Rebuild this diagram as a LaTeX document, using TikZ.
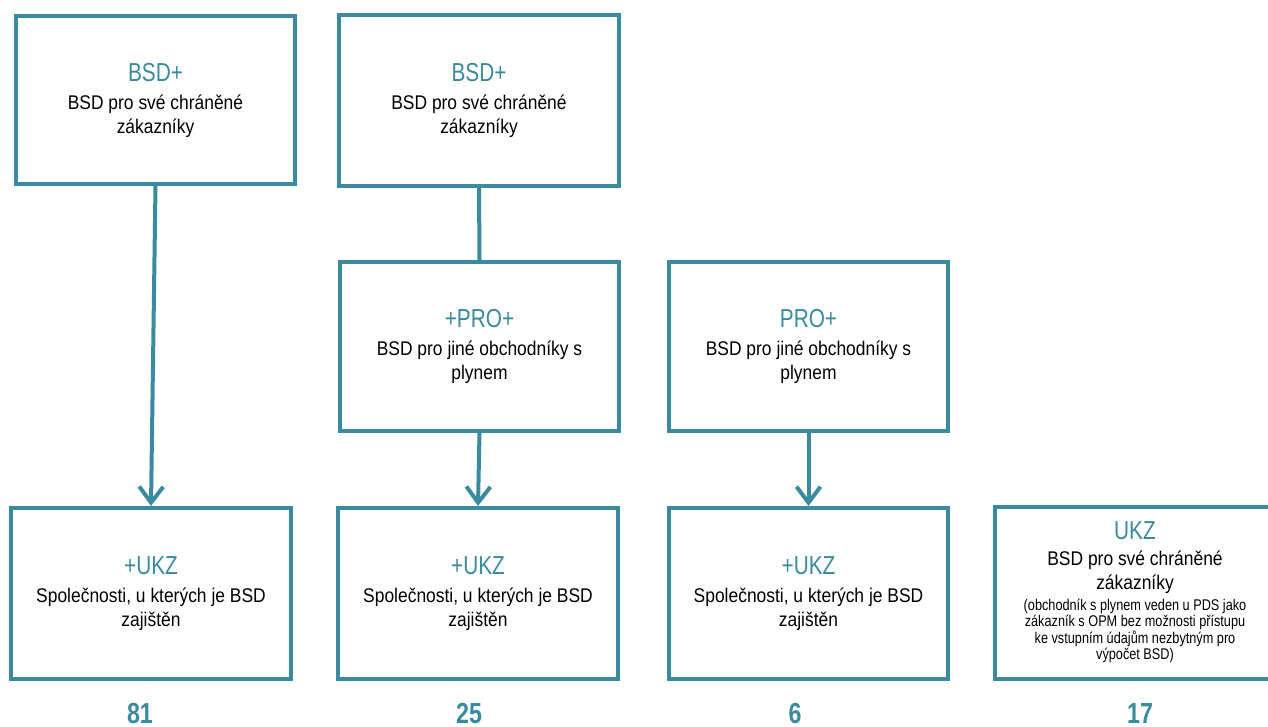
\documentclass[tikz,border=0pt]{standalone}
\usepackage{fontspec}
\setmainfont{Liberation Sans}[FakeStretch=0.88]
\newfontfamily\narrowfont{Liberation Sans}[FakeStretch=0.8]
\newfontfamily\smallfont{Liberation Sans}[FakeStretch=0.82]
\usetikzlibrary{arrows.meta,calc}
\definecolor{tealc}{HTML}{3A8AA0}
\newcommand{\boxtitle}[1]{{\narrowfont\fontsize{26}{28}\selectfont\color{tealc}#1}}
\newcommand{\smallblock}[1]{{\smallfont\fontsize{15.5}{16}\selectfont\begin{tabular}[t]{@{}c@{}}#1\end{tabular}}}
\tikzset{
  box/.style={draw=tealc, line width=4pt, fill=white, inner sep=0pt, align=center,
    text=black, font=\fontsize{19.8}{24}\selectfont, minimum width=280pt, minimum height=170pt},
  conn/.style={draw=tealc, line width=4pt},
  arr/.style={conn, -{Straight Barb[length=16pt,width=24pt]}},
  count/.style={text=tealc, font=\narrowfont\bfseries\fontsize{29}{30}\selectfont, inner sep=0pt, anchor=base}
}
\begin{document}
\begin{tikzpicture}[x=1pt,y=-1pt]
\useasboundingbox (0,0) rectangle (1268,727);
\clip (0,0) rectangle (1268,727);
\node[box, minimum width=279pt, minimum height=168pt] (b1) at (155.5,100)
  {\boxtitle{BSD+}\\[4pt]BSD pro své chráněné\\zákazníky};
\node[box, minimum width=280pt, minimum height=171pt] (b2) at (479,100.5)
  {\boxtitle{BSD+}\\[4pt]BSD pro své chráněné\\zákazníky};
\node[box, minimum width=279pt, minimum height=169pt] (p1) at (479.5,346.5)
  {\boxtitle{+PRO+}\\[4pt]BSD pro jiné obchodníky s\\plynem};
\node[box, minimum width=279pt, minimum height=169pt] (p2) at (808.5,346.5)
  {\boxtitle{PRO+}\\[4pt]BSD pro jiné obchodníky s\\plynem};
\node[box, minimum width=280pt, minimum height=171pt] (u1) at (151,593.5)
  {\boxtitle{+UKZ}\\[4pt]Společnosti, u kterých je BSD\\zajištěn};
\node[box, minimum width=280pt, minimum height=171pt] (u2) at (478,593.5)
  {\boxtitle{+UKZ}\\[4pt]Společnosti, u kterých je BSD\\zajištěn};
\node[box, minimum width=279pt, minimum height=171pt] (u3) at (808.5,593.5)
  {\boxtitle{+UKZ}\\[4pt]Společnosti, u kterých je BSD\\zajištěn};
\node[box, minimum width=280pt, minimum height=172pt] (u4) at (1135,593)
  {\boxtitle{UKZ}\\[2pt]BSD pro své chráněné\\zákazníky\\[-3pt]
   \smallblock{(obchodník s plynem veden u PDS jako\\zákazník s OPM bez možnosti přístupu\\ke vstupním údajům nezbytným pro\\výpočet BSD)}};
\draw[arr] (b1.south) -- (u1.north);
\draw[conn] (b2.south) -- (p1.north);
\draw[arr] (p1.south) -- (u2.north);
\draw[arr] (p2.south) -- (u3.north);
\node[count] (n1) at (140,723) {81};
\node[count] (n2) at (469,723) {25};
\node[count] (n3) at (795,723) {6};
\node[count] (n4) at (1140,723) {17};
\end{tikzpicture}
\end{document}
